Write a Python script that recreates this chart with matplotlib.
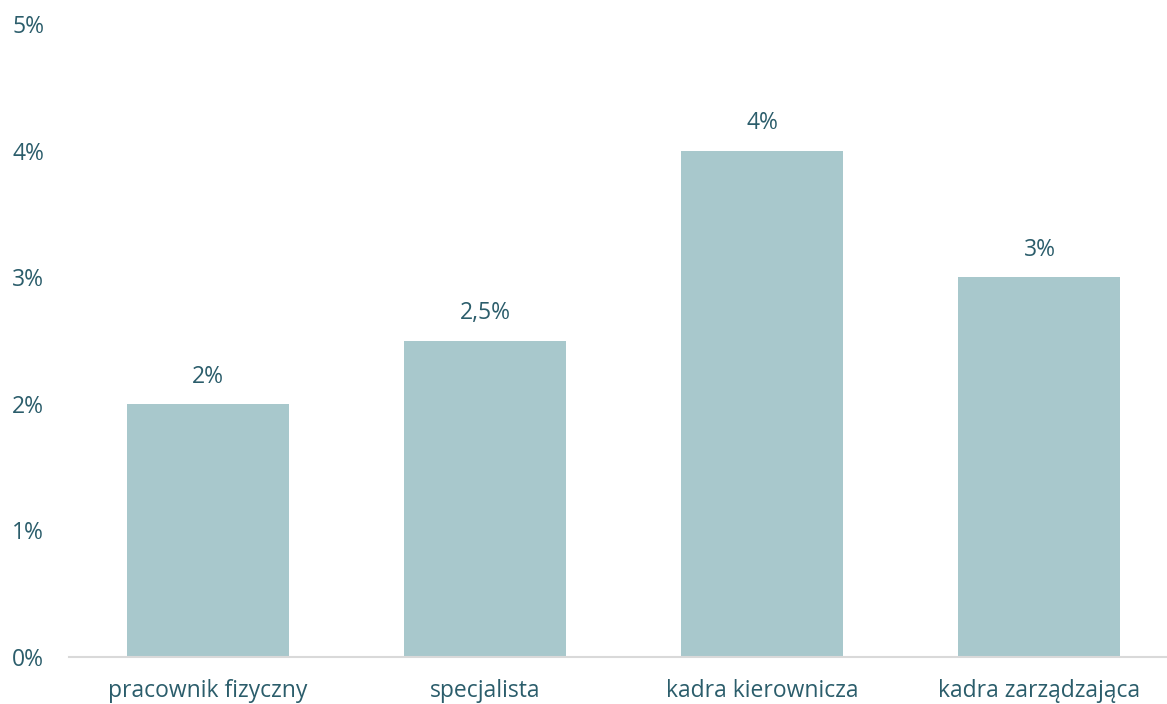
import matplotlib
matplotlib.use("Agg")
from matplotlib import pyplot as plt

categories = ['pracownik fizyczny', 'specjalista', 'kadra kierownicza', 'kadra zarządzająca']
values = [2, 2.5, 4, 3]
value_labels = ['2%', '2,5%', '4%', '3%']
y_ticks = [0, 1, 2, 3, 4, 5]
y_tick_labels = ['0%', '1%', '2%', '3%', '4%', '5%']

text_color = '#2b5d6b'
bar_color = '#a8c8cc'

plt.rcParams['font.family'] = ['Open Sans', 'DejaVu Sans']

fig = plt.figure(figsize=(11.67, 7.04), dpi=100)
ax = fig.add_axes([69 / 1167, 1 - 657 / 704, 1 - 69 / 1167, (657 - 24) / 704])

x = list(range(len(categories)))
ax.bar(x, values, width=0.584, color=bar_color)

for xi, v, lab in zip(x, values, value_labels):
    ax.annotate(lab, (xi, v), xytext=(0, 11), textcoords='offset points',
                ha='center', va='bottom', fontsize=16.5, color=text_color)

ax.set_xlim(-0.5, 3.46)
ax.set_ylim(0, 5)
ax.set_yticks(y_ticks)
ax.set_yticklabels(y_tick_labels)
ax.set_xticks(x)
ax.set_xticklabels(categories)

ax.tick_params(axis='both', length=0, labelsize=16.5, colors=text_color)
ax.tick_params(axis='x', pad=16)
for lbl in ax.get_yticklabels():
    lbl.set_horizontalalignment('left')
ax.tick_params(axis='y', pad=41)

for side in ['top', 'right', 'left']:
    ax.spines[side].set_visible(False)
ax.spines['bottom'].set_color('#d9d9d9')
ax.spines['bottom'].set_linewidth(1.5)

fig.savefig('out.png', dpi=100)
